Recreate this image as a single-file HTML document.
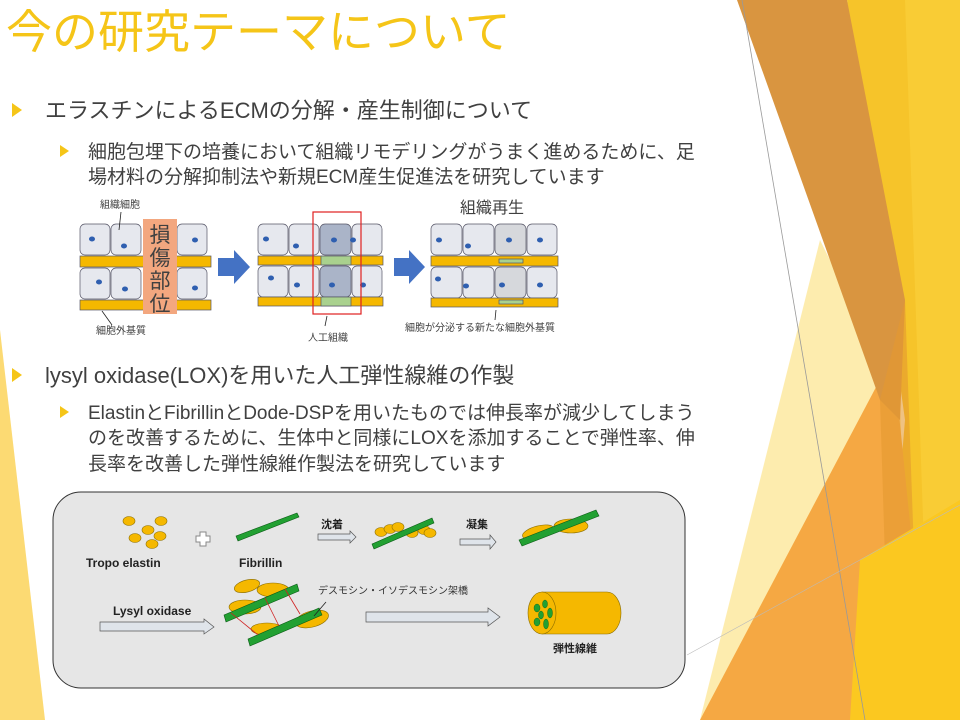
<!DOCTYPE html>
<html><head><meta charset="utf-8"><style>
html,body{margin:0;padding:0;background:#fff;}
svg{display:block;}
text{font-family:"Liberation Sans","Noto Sans CJK JP",sans-serif;}
</style></head><body>
<svg width="960" height="720" viewBox="0 0 960 720" xmlns="http://www.w3.org/2000/svg">
<rect width="960" height="720" fill="#fff"/>
<!-- background decoration -->
<polygon points="0,330 45,720 0,720" fill="#fbd45a" opacity="0.85"/>
<polygon points="847,0 960,0 960,720 880,720 905,420" fill="#f6c42a"/>
<polygon points="905,0 960,0 960,720 930,720" fill="#f9cc35"/>
<polygon points="820,240 900,400 905,560 745,720 700,720" fill="#fde79a" opacity="0.8"/>
<polygon points="700,720 893,355 930,720" fill="#f5a843"/>
<polygon points="737,0 847,0 905,300 900,420 880,400" fill="#d99540"/>
<polygon points="880,400 905,300 920,720 890,720" fill="#e49a30" opacity="0.6"/>
<polygon points="860,560 960,500 960,720 850,720" fill="#fbc820"/>
<line x1="742" y1="0" x2="865" y2="720" stroke="#999" stroke-width="0.8"/>
<line x1="687" y1="655" x2="960" y2="505" stroke="#bbb" stroke-width="0.6"/>

<!-- title -->
<text x="6" y="48" font-size="46" fill="#f5c518">今の研究テーマについて</text>
<!-- bullets -->
<polygon points="12,103 12,117 22,110" fill="#f5c518"/>
<text x="45" y="118" font-size="22" fill="#404040">エラスチンによるECMの分解・産生制御について</text>
<polygon points="60,145 60,157 69,151" fill="#f5c518"/>
<text x="88" y="158" font-size="19" fill="#404040">細胞包埋下の培養において組織リモデリングがうまく進めるために、足</text>
<text x="88" y="183" font-size="19" fill="#404040">場材料の分解抑制法や新規ECM産生促進法を研究しています</text>

<polygon points="12,368 12,382 22,375" fill="#f5c518"/>
<text x="45" y="383" font-size="22" fill="#404040">lysyl oxidase(LOX)を用いた人工弾性線維の作製</text>
<polygon points="60,406 60,418 69,412" fill="#f5c518"/>
<text x="88" y="419" font-size="19" fill="#404040">ElastinとFibrillinとDode-DSPを用いたものでは伸長率が減少してしまう</text>
<text x="88" y="444" font-size="19" fill="#404040">のを改善するために、生体中と同様にLOXを添加することで弾性率、伸</text>
<text x="88" y="470" font-size="19" fill="#404040">長率を改善した弾性線維作製法を研究しています</text>

<!-- tissue diagram -->
<g stroke="#556" stroke-width="0.7">
  <rect x="80" y="224" width="30" height="31" rx="5" fill="#e6e8ee"/>
  <rect x="111" y="224" width="30" height="31" rx="5" fill="#e6e8ee"/>
  <rect x="177" y="224" width="30" height="31" rx="5" fill="#e6e8ee"/>
  <rect x="80" y="256" width="131" height="11" fill="#f5b800"/>
  <rect x="80" y="268" width="30" height="31" rx="5" fill="#e6e8ee"/>
  <rect x="111" y="268" width="30" height="31" rx="5" fill="#e6e8ee"/>
  <rect x="177" y="268" width="30" height="31" rx="5" fill="#e6e8ee"/>
  <rect x="80" y="300" width="131" height="10" fill="#f5b800"/>
 <rect x="143" y="219" width="34" height="95" fill="#f3a77f" stroke="none"/>
 <!-- panel 2 -->
 <rect x="258" y="224" width="30" height="31" rx="5" fill="#e6e8ee"/>
 <rect x="289" y="224" width="30" height="31" rx="5" fill="#e6e8ee"/>
 <rect x="320" y="224" width="31" height="31" rx="5" fill="#aab4c8"/>
 <rect x="352" y="224" width="30" height="31" rx="5" fill="#e6e8ee"/>
 <rect x="258" y="256" width="125" height="9" fill="#f5b800"/>
 <rect x="321" y="256" width="30" height="9" fill="#a9d18e"/>
 <rect x="258" y="266" width="30" height="31" rx="5" fill="#e6e8ee"/>
 <rect x="289" y="266" width="30" height="31" rx="5" fill="#e6e8ee"/>
 <rect x="320" y="266" width="31" height="31" rx="5" fill="#aab4c8"/>
 <rect x="352" y="266" width="30" height="31" rx="5" fill="#e6e8ee"/>
 <rect x="258" y="297" width="125" height="9" fill="#f5b800"/>
 <rect x="321" y="297" width="30" height="9" fill="#a9d18e"/>
 <!-- panel 3 -->
 <rect x="431" y="224" width="31" height="31" rx="5" fill="#e6e8ee"/>
 <rect x="463" y="224" width="31" height="31" rx="5" fill="#e6e8ee"/>
 <rect x="495" y="224" width="31" height="31" rx="5" fill="#d6d8dc"/>
 <rect x="527" y="224" width="30" height="31" rx="5" fill="#e6e8ee"/>
 <rect x="431" y="256" width="127" height="10" fill="#f5b800"/>
 <rect x="499" y="259" width="24" height="4" fill="#a9d18e"/>
 <rect x="431" y="267" width="31" height="31" rx="5" fill="#e6e8ee"/>
 <rect x="463" y="267" width="31" height="31" rx="5" fill="#e6e8ee"/>
 <rect x="495" y="267" width="31" height="31" rx="5" fill="#d6d8dc"/>
 <rect x="527" y="267" width="30" height="31" rx="5" fill="#e6e8ee"/>
 <rect x="431" y="298" width="127" height="9" fill="#f5b800"/>
 <rect x="499" y="300" width="24" height="4" fill="#a9d18e"/>
</g>
<g fill="#2f5fb0">
 <ellipse cx="92" cy="239" rx="3" ry="2.5"/><ellipse cx="124" cy="246" rx="3" ry="2.5"/><ellipse cx="195" cy="240" rx="3" ry="2.5"/>
 <ellipse cx="99" cy="282" rx="3" ry="2.5"/><ellipse cx="125" cy="289" rx="3" ry="2.5"/><ellipse cx="195" cy="288" rx="3" ry="2.5"/>
 <ellipse cx="266" cy="239" rx="3" ry="2.5"/><ellipse cx="296" cy="246" rx="3" ry="2.5"/><ellipse cx="334" cy="240" rx="3" ry="2.5"/><ellipse cx="353" cy="240" rx="3" ry="2.5"/>
 <ellipse cx="271" cy="278" rx="3" ry="2.5"/><ellipse cx="297" cy="285" rx="3" ry="2.5"/><ellipse cx="332" cy="285" rx="3" ry="2.5"/><ellipse cx="363" cy="285" rx="3" ry="2.5"/>
 <ellipse cx="439" cy="240" rx="3" ry="2.5"/><ellipse cx="468" cy="246" rx="3" ry="2.5"/><ellipse cx="509" cy="240" rx="3" ry="2.5"/><ellipse cx="540" cy="240" rx="3" ry="2.5"/>
 <ellipse cx="438" cy="279" rx="3" ry="2.5"/><ellipse cx="466" cy="286" rx="3" ry="2.5"/><ellipse cx="502" cy="285" rx="3" ry="2.5"/><ellipse cx="540" cy="285" rx="3" ry="2.5"/>
</g>
<rect x="313" y="212" width="48" height="102" fill="none" stroke="#e02020" stroke-width="1.2"/>
<polygon points="218,258 234,258 234,250 250,267 234,284 234,276 218,276" fill="#4472c4"/>
<polygon points="394,258 409,258 409,250 425,267 409,284 409,276 394,276" fill="#4472c4"/>
<g font-size="21" fill="#404040" text-anchor="middle">
<text x="160" y="242">損</text>
<text x="160" y="265">傷</text>
<text x="160" y="288">部</text>
<text x="160" y="311">位</text>
</g>
<text x="100" y="208" font-size="10" fill="#404040">組織細胞</text>
<line x1="121" y1="212" x2="119" y2="230" stroke="#222" stroke-width="0.8"/>
<text x="96" y="334" font-size="10" fill="#404040">細胞外基質</text>
<line x1="112" y1="325" x2="102" y2="311" stroke="#222" stroke-width="0.8"/>
<text x="308" y="341" font-size="10" fill="#404040">人工組織</text>
<line x1="325" y1="326" x2="327" y2="316" stroke="#222" stroke-width="0.8"/>
<text x="460" y="213" font-size="16" fill="#404040">組織再生</text>
<text x="405" y="331" font-size="10" fill="#404040">細胞が分泌する新たな細胞外基質</text>
<line x1="495" y1="320" x2="496" y2="310" stroke="#222" stroke-width="0.8"/>

<!-- lower box -->
<rect x="53" y="492" width="632" height="196" rx="28" fill="#e6e6e6" stroke="#333" stroke-width="1"/>
<g fill="#f5b800" stroke="#8a6d00" stroke-width="0.6">
 <ellipse cx="129" cy="521" rx="6" ry="4.5"/><ellipse cx="148" cy="530" rx="6" ry="4.5"/><ellipse cx="161" cy="521" rx="6" ry="4.5"/>
 <ellipse cx="135" cy="538" rx="6" ry="4.5"/><ellipse cx="160" cy="536" rx="6" ry="4.5"/><ellipse cx="152" cy="544" rx="6" ry="4.5"/>
</g>
<path d="M196,536 h4 v-4 h6 v4 h4 v6 h-4 v4 h-6 v-4 h-4z" fill="#fff" stroke="#888" stroke-width="1"/>
<polygon points="236,536 297,513 299,517 238,541" fill="#22a032" stroke="#0a5a15" stroke-width="0.6"/>
<text x="86" y="567" font-size="12" font-weight="bold" fill="#222">Tropo elastin</text>
<text x="239" y="567" font-size="12" font-weight="bold" fill="#222">Fibrillin</text>
<text x="321" y="528" font-size="11" font-weight="bold" fill="#222">沈着</text>
<polygon points="318,534 350,534 350,531 356,537 350,543 350,540 318,540" fill="#dfe4ea" stroke="#555" stroke-width="0.7"/>
<text x="466" y="528" font-size="11" font-weight="bold" fill="#222">凝集</text>
<polygon points="460,539 490,539 490,535 496,542 490,549 490,545 460,545" fill="#dfe4ea" stroke="#555" stroke-width="0.7"/>
<g fill="#f5b800" stroke="#8a6d00" stroke-width="0.6">
 <ellipse cx="381" cy="532" rx="6" ry="4.5"/><ellipse cx="390" cy="529" rx="6" ry="4.5"/><ellipse cx="398" cy="527" rx="6" ry="4.5"/>
 <ellipse cx="412" cy="533" rx="6" ry="4.5"/><ellipse cx="424" cy="530" rx="6" ry="4.5"/><ellipse cx="430" cy="533" rx="6" ry="4.5"/>
</g>
<polygon points="372,544 432,518 434,523 374,549" fill="#22a032" stroke="#0a5a15" stroke-width="0.6"/>
<ellipse cx="538" cy="532" rx="16" ry="6" fill="#f5b800" stroke="#8a6d00" stroke-width="0.6" transform="rotate(-15 538 532)"/>
<ellipse cx="571" cy="526" rx="17" ry="7" fill="#f5b800" stroke="#8a6d00" stroke-width="0.6"/>
<polygon points="519,540 596,510 599,516 522,546" fill="#22a032" stroke="#0a5a15" stroke-width="0.6"/>

<text x="113" y="615" font-size="12" font-weight="bold" fill="#222">Lysyl oxidase</text>
<polygon points="100,622 204,622 204,619 214,627 204,634 204,631 100,631" fill="#dfe4ea" stroke="#555" stroke-width="0.7"/>
<ellipse cx="245" cy="607" rx="16" ry="7" fill="#f5b800" stroke="#8a6d00" stroke-width="0.6"/>
<ellipse cx="247" cy="586" rx="13" ry="6" fill="#f5b800" stroke="#8a6d00" stroke-width="0.6" transform="rotate(-15 247 586)"/>
<ellipse cx="273" cy="590" rx="16" ry="7" fill="#f5b800" stroke="#8a6d00" stroke-width="0.6"/>
<polygon points="224,615 297,584 299,591 226,622" fill="#22a032" stroke="#0a5a15" stroke-width="0.6"/>
<ellipse cx="267" cy="629" rx="16" ry="6" fill="#f5b800" stroke="#8a6d00" stroke-width="0.6"/>
<ellipse cx="312" cy="619" rx="17" ry="8" fill="#f5b800" stroke="#8a6d00" stroke-width="0.6" transform="rotate(-15 312 619)"/>
<polygon points="248,639 319,608 322,615 250,646" fill="#22a032" stroke="#0a5a15" stroke-width="0.6"/>
<line x1="231" y1="613" x2="258" y2="635" stroke="#d02020" stroke-width="0.8"/>
<line x1="265" y1="598" x2="279" y2="626" stroke="#d02020" stroke-width="0.8"/>
<line x1="285" y1="589" x2="300" y2="614" stroke="#d02020" stroke-width="0.8"/>
<line x1="326" y1="602" x2="314" y2="616" stroke="#222" stroke-width="0.8"/>
<text x="318" y="594" font-size="10" fill="#333">デスモシン・イソデスモシン架橋</text>
<polygon points="366,612 488,612 488,608 500,617 488,626 488,622 366,622" fill="#dfe4ea" stroke="#555" stroke-width="0.7"/>
<path d="M542,592 h65 a14,21 0 0 1 0,42 h-65z" fill="#f5b800" stroke="#8a6d00" stroke-width="0.6"/>
<ellipse cx="542" cy="613" rx="14" ry="21" fill="#f5b800" stroke="#8a6d00" stroke-width="0.6"/>
<g fill="#22a032" stroke="#0a5a15" stroke-width="0.4">
 <ellipse cx="537" cy="608" rx="3" ry="4"/><ellipse cx="545" cy="604" rx="2.5" ry="4"/><ellipse cx="550" cy="613" rx="2.5" ry="5"/>
 <ellipse cx="541" cy="615" rx="2.5" ry="4"/><ellipse cx="537" cy="622" rx="3" ry="4"/><ellipse cx="546" cy="624" rx="2.5" ry="5"/>
</g>
<text x="553" y="652" font-size="11" font-weight="bold" fill="#222">弾性線維</text>
</svg>
</body></html>
